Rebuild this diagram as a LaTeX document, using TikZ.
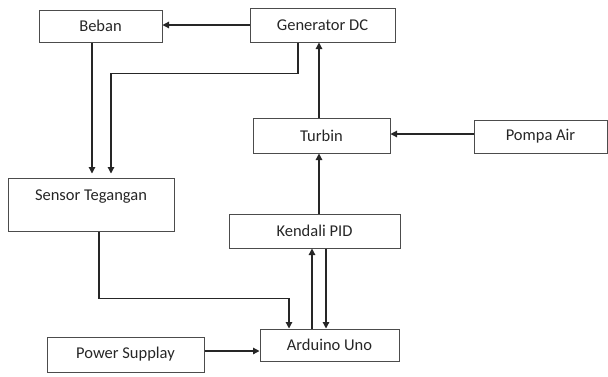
\documentclass[tikz,border=0pt]{standalone}
\usepackage{xcolor}
\usepackage{fontspec}
\setmainfont{Carlito}
\usepackage{tikz}
\usetikzlibrary{arrows.meta}

\begin{document}
\begin{tikzpicture}[x=1pt,y=1pt,
    blok/.style={draw=black!70,line width=1pt,inner sep=0pt,text=black!85,font=\fontsize{16.5}{19}\selectfont},
    panah/.style={draw=black!85,line width=1.2pt,-{Triangle[length=6.5pt,width=6.5pt]}}]
            \useasboundingbox (0,0) rectangle (608,-376);
            %绘制各个方框
            \node[blok,minimum width=123,minimum height=32] (beban) at (100.5,-26) {Beban};
            \node[blok,minimum width=145,minimum height=34] (gen) at (322.5,-25) {Generator DC};
            \node[blok,minimum width=137,minimum height=35] (turbin) at (321.5,-135.5) {Turbin};
            \node[blok,minimum width=133,minimum height=33] (pompa) at (540.5,-136.5) {Pompa Air};
            \node[blok,minimum width=166,text height=18pt,text depth=27pt,inner ysep=4pt] (sensor) at (91,-204.5) {Sensor Tegangan};
            \node[blok,minimum width=171,minimum height=34] (pid) at (314.5,-231) {Kendali PID};
            \node[blok,minimum width=139,minimum height=32] (arduino) at (329.5,-345) {Arduino Uno};
            \node[blok,minimum width=157,minimum height=35] (power) at (125.5,-354.5) {Power Supplay};
            %绘制上半部分的箭头
            \draw[panah] (gen.west) -- (gen.west -| beban.east);
            \draw[panah] ([xshift=-8.5pt]beban.south) -- ([xshift=-8.5pt,yshift=4pt]beban.south |- sensor.north);
            \draw[panah] ([xshift=-24.5pt]gen.south) -- ++(0,-31) -| ([xshift=20pt,yshift=4pt]sensor.north);
            \draw[panah] ([xshift=-2.5pt]turbin.north) -- ([xshift=-2.5pt]turbin.north |- gen.south);
            \draw[panah] ([yshift=2.5pt]pompa.west) -- ([yshift=2.5pt]pompa.west -| turbin.east);
            \draw[panah] ([xshift=-2.5pt]turbin.south |- pid.north) -- ([xshift=-2.5pt]turbin.south);
            %绘制下半部分的箭头
            \draw[panah] ([xshift=-17.5pt]arduino.north) -- ([xshift=-17.5pt]arduino.north |- pid.south);
            \draw[panah] ([xshift=-3.5pt]arduino.north |- pid.south) -- ([xshift=-3.5pt]arduino.north);
            \draw[panah] ([xshift=8pt]sensor.south) -- ++(0,-67) -| ([xshift=-40.5pt]arduino.north);
            \draw[panah] ([yshift=3.5pt]power.east) -- ([yshift=3.5pt]power.east -| arduino.west);
        \end{tikzpicture}
\end{document}
